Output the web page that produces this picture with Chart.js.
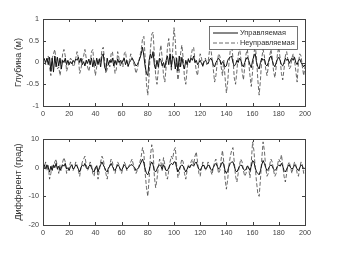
<!DOCTYPE html>
<html>
<head>
<meta charset="utf-8">
<script src="https://cdn.jsdelivr.net/npm/chart.js@4"></script>
<style>
  body { margin: 0; background: #fff; }
  .plot { position: absolute; left: 0; }
</style>
</head>
<body>
<canvas id="depth-chart" class="plot" style="top:0" width="337" height="126"></canvas>
<canvas id="trim-chart" class="plot" style="top:126px" width="337" height="127"></canvas>
<script>
// Time axis, seconds (sample grid)
const time = Array.from({ length: 201 }, (_, i) => i);
const xTicks = [0, 20, 40, 60, 80, 100, 120, 140, 160, 180, 200];

const seriesNames = ['Управляемая', 'Неуправляемая'];

// Depth (m)
const depthTicks = [-1, -0.5, 0, 0.5, 1];
const depthControlled = [
  0.05, 0.08, 0.0, 0.1, -0.05, 0.12, -0.2, 0.1, -0.22, 0.15,
  -0.1, 0.12, -0.08, 0.1, -0.15, 0.05, 0.0, 0.1, -0.05, 0.05,
  -0.05, 0.02, -0.03, 0.05, 0.0, 0.08, 0.05, 0.12, 0.0, 0.1,
  -0.05, 0.02, -0.08, 0.05, -0.02, 0.08, -0.05, 0.1, -0.1, 0.05,
  -0.08, 0.1, -0.05, 0.08, -0.1, 0.15, 0.2, -0.1, -0.18, 0.1,
  -0.05, 0.05, 0.0, 0.1, -0.08, 0.05, -0.05, 0.08, 0.0, 0.05,
  -0.02, 0.05, 0.1, -0.05, 0.05, -0.08, 0.0, 0.05, 0.1, 0.05,
  -0.02, -0.08, -0.05, 0.02, 0.1, 0.2, 0.35, 0.15, -0.1, -0.25,
  -0.3, 0.05, 0.2, 0.1, 0.25, -0.05, -0.15, 0.05, -0.1, 0.1,
  0.05, -0.08, 0.0, -0.12, 0.05, 0.15, -0.05, 0.2, -0.1, 0.15,
  0.1, -0.15, 0.1, -0.2, 0.15, -0.1, 0.12, -0.05, -0.15, 0.05,
  -0.05, 0.08, 0.0, 0.1, 0.05, 0.15, 0.0, 0.05, -0.05, 0.0,
  0.05, -0.02, -0.08, 0.02, 0.05, 0.0, -0.03, 0.05, 0.1, 0.05,
  -0.05, -0.1, 0.0, 0.05, 0.1, 0.05, -0.05, 0.02, -0.02, -0.1,
  -0.08, 0.05, 0.1, 0.12, 0.15, 0.0, -0.08, -0.05, 0.05, 0.0,
  0.1, 0.05, -0.05, -0.1, 0.0, 0.08, 0.12, 0.05, -0.05, -0.12,
  0.05, 0.15, 0.2, 0.0, -0.1, -0.15, 0.0, 0.1, 0.05, 0.08,
  -0.05, -0.08, 0.0, 0.1, 0.15, 0.05, -0.05, -0.1, 0.0, 0.08,
  0.12, 0.05, -0.05, -0.08, 0.0, 0.1, 0.05, 0.08, -0.02, 0.05,
  0.1, 0.05, 0.12, 0.0, -0.05, 0.05, 0.08, 0.0, -0.05, -0.1,
  -0.05
];
const depthUncontrolled = [
  0.05, 0.1, -0.05, 0.0, 0.15, -0.1, -0.3, 0.1, 0.2, 0.3,
  0.05, -0.15, -0.1, -0.3, -0.1, 0.2, 0.3, 0.15, -0.2, -0.1,
  0.0, 0.1, 0.05, -0.1, -0.05, 0.1, 0.25, 0.1, -0.25, -0.15,
  0.05, 0.15, 0.3, 0.1, -0.1, -0.2, -0.05, 0.25, 0.3, -0.05,
  -0.3, -0.1, 0.05, 0.1, 0.0, 0.3, 0.35, 0.05, -0.25, -0.15,
  0.0, -0.1, 0.2, 0.25, 0.0, -0.25, -0.15, 0.25, 0.1, -0.1,
  0.05, -0.1, 0.2, 0.25, 0.0, -0.1, 0.05, 0.2, 0.1, 0.0,
  -0.1, -0.25, -0.15, 0.0, 0.15, 0.3, 0.55, 0.6, 0.1, -0.5,
  -0.75, -0.3, 0.3, 0.65, 0.7, 0.2, -0.3, -0.5, -0.2, 0.2,
  0.4, 0.1, -0.3, -0.45, -0.1, 0.35, 0.55, 0.25, -0.2, 0.3,
  0.8, 0.5, -0.1, -0.4, -0.2, 0.2, 0.4, 0.1, -0.35, -0.5,
  -0.15, 0.1, 0.0, 0.15, 0.3, 0.35, 0.05, -0.2, -0.3, 0.0,
  0.2, 0.1, -0.1, 0.05, 0.1, -0.05, 0.0, 0.25, 0.35, 0.1,
  -0.15, -0.45, -0.3, 0.0, 0.2, 0.15, -0.1, -0.3, 0.05, -0.35,
  -0.7, -0.45, 0.0, 0.3, 0.4, 0.1, -0.35, -0.5, -0.2, 0.15,
  0.35, 0.1, -0.2, -0.4, -0.1, 0.2, 0.3, 0.0, -0.3, -0.55,
  -0.2, 0.2, 0.4, 0.1, -0.4, -0.75, -0.4, 0.1, 0.3, 0.15,
  -0.15, -0.3, -0.1, 0.15, 0.3, 0.1, -0.2, -0.35, -0.1, 0.2,
  0.35, 0.1, -0.25, -0.4, -0.15, 0.15, 0.25, 0.05, -0.15, -0.1,
  0.1, 0.2, 0.05, -0.2, -0.45, 0.0, 0.2, 0.15, -0.1, -0.3,
  -0.1
];

// Trim (deg)
const trimTicks = [-20, -10, 0, 10];
const trimControlled = [
  0.5, 1, -0.5, 1, 0, -1.5, 0.5, -1, 1, 0,
  1.5, -0.5, 0.5, -1, 0, 1, 0.5, 1.5, -0.5, 0,
  -1, 0.5, 1, -0.5, 0, 1, 0.5, -0.5, -1.5, 0,
  1, 0.5, 1.5, 0, -0.5, 0.5, 1, 0, -1, -1.5,
  0, 0.5, -1.5, 0, 1, 2, 1, 0, -1, -1.5,
  0, 0.5, 1.5, 0.5, -0.5, -1, 0, 1, 0.5, -0.5,
  -1, 0, 1, 0.5, -0.5, 0, 0.5, 1, 1, 0.5,
  0, -1, -0.5, 0, 1, 2, 3, 1.5, -0.5, -2,
  -2.5, -1, 1, 2, 1, -1, -1.5, -0.5, 0.5, 1,
  0.5, -0.5, 1, 0, -1, -1, 0, 1, 1.5, 1,
  2, 2, 0, -1.5, -0.5, 0.5, 1, 0.5, -0.5, -1.5,
  -0.5, 0.5, 0, 1, 1, 0.5, 1.5, 2, 0.5, -0.5,
  -1, 0, 1, 0.5, -0.5, 0, 1, 0.5, -0.5, -1,
  0, 1, 1.5, 0.5, -0.5, 0, 1, 2, 1, -1,
  -2, -1, 0.5, 1.5, 2, 2, 0.5, -1, -1.5, -0.5,
  0.5, 1, 0.5, -0.5, -1, -0.5, 0.5, 0, -1, 0.5,
  2.5, 2, 0, -1.5, -2, -2.5, -1, 1, 2.5, 1.5,
  0, -1, -0.5, 0.5, 1, 0.5, -0.5, -1, -0.5, 0.5,
  1, 0.5, 1.5, 0.5, -1, -1.5, -0.5, 0.5, 1, 0,
  -0.5, 0, 1, 0.5, -0.5, -1, 0, 1, 0.5, -0.5,
  0
];
const trimUncontrolled = [
  1, 0, 2, -1, 1, -4, -2, 1, 0, 2,
  3, 0, -2, 1, -1, 2, 3.5, 2, -2, -1,
  0, 2, 1, -1, 0, 2, 1, -1, -3, 0,
  2, 3, 4, 1, -1, 0, 2, 1, -2, -3,
  0, 1, -4, -1, 2, 4, 3, 0, -2, -4,
  -1, 1, 3, 2, -1, -2, 0, 2, 1, -1,
  -2, 0, 2, 1, -1, 0, 1, 2, 3, 1,
  -1, -2, -1, 0, 2, 4, 7, 5, -2, -7,
  -10, -4, 4, 8, 6, -3, -7, -4, 0, 3,
  2, -1, 3.5, 1, -3, -4, -1, 2, 4, 3,
  6, 7, 1, -3.5, -2, 1, 3, 2, -2, -4,
  -1, 1, 0, 2, 3, 1, 4, 5.5, 2, -2,
  -3, 0, 2, 1, -1, 0, 2, 1, -1, -2.5,
  0, 2, 3, 1, -2, -1, 3, 6, 2, -4,
  -7.5, -4, 1, 4, 6, 7, 2, -3, -5, -2,
  1, 3, 2, -1, -3, -2, 1, 0, -3.5, 2,
  9, 6, 0, -5, -9, -10, -4, 3, 9, 6,
  0, -3, -2, 1, 3, 2, -1, -3, -2, 1,
  3, 2, 4.5, 1, -3, -5, -2, 1, 2, 0,
  -2, 0, 2, 1, -2, -3, 0, 2, 1, -2,
  -1
];

Chart.defaults.font.family = '"Liberation Sans", Arial, sans-serif';
Chart.defaults.color = '#404040';

function toPoints(values) {
  return values.map((v, i) => ({ x: time[i], y: v }));
}

// Box around the axes with inward ticks on all four sides
const boxAxes = {
  id: 'boxAxes',
  afterDraw(chart) {
    const { ctx, chartArea: a, scales } = chart;
    const len = 3;
    ctx.save();
    ctx.strokeStyle = '#404040';
    ctx.lineWidth = 1;
    ctx.strokeRect(Math.round(a.left) + 0.5, Math.round(a.top) + 0.5,
      Math.round(a.right - a.left), Math.round(a.bottom - a.top));
    ctx.beginPath();
    scales.x.ticks.forEach(t => {
      const px = Math.round(scales.x.getPixelForValue(t.value)) + 0.5;
      ctx.moveTo(px, a.bottom); ctx.lineTo(px, a.bottom - len);
      ctx.moveTo(px, a.top); ctx.lineTo(px, a.top + len);
    });
    scales.y.ticks.forEach(t => {
      const py = Math.round(scales.y.getPixelForValue(t.value)) + 0.5;
      ctx.moveTo(a.left, py); ctx.lineTo(a.left + len, py);
      ctx.moveTo(a.right, py); ctx.lineTo(a.right - len, py);
    });
    ctx.stroke();
    ctx.restore();
  }
};

// Legend drawn inside the top-right corner of the axes
const insideLegend = {
  id: 'insideLegend',
  afterDatasetsDraw(chart, args, opts) {
    if (!opts.display) return;
    const { ctx, chartArea: a } = chart;
    const w = 88, h = 23;
    const x0 = a.right - 8 - w, y0 = a.top + 7;
    ctx.save();
    ctx.fillStyle = '#fff';
    ctx.fillRect(x0, y0, w, h);
    ctx.strokeStyle = '#505050';
    ctx.lineWidth = 0.8;
    ctx.strokeRect(x0 + 0.5, y0 + 0.5, w, h);
    ctx.font = '7.4px "Liberation Sans", Arial, sans-serif';
    ctx.textBaseline = 'middle';
    chart.data.datasets.forEach((ds, i) => {
      const y = y0 + 7 + i * 10;
      ctx.beginPath();
      ctx.strokeStyle = ds.borderColor;
      ctx.lineWidth = ds.borderWidth;
      ctx.setLineDash(ds.borderDash || []);
      ctx.moveTo(x0 + 4, y);
      ctx.lineTo(x0 + 29, y);
      ctx.stroke();
      ctx.setLineDash([]);
      ctx.fillStyle = '#303030';
      ctx.fillText(ds.label, x0 + 31, y);
    });
    ctx.restore();
  }
};

function makeChart(id, controlled, uncontrolled, yTicks, title, padding, showLegend) {
  return new Chart(document.getElementById(id), {
    type: 'line',
    data: {
      datasets: [
        {
          label: seriesNames[0],
          data: toPoints(controlled),
          borderColor: '#111',
          borderWidth: 1,
          pointRadius: 0,
          tension: 0
        },
        {
          label: seriesNames[1],
          data: toPoints(uncontrolled),
          borderColor: '#444',
          borderWidth: 0.8,
          borderDash: [4, 2],
          pointRadius: 0,
          tension: 0
        }
      ]
    },
    options: {
      responsive: false,
      animation: false,
      layout: { padding },
      plugins: {
        legend: { display: false },
        tooltip: { enabled: false },
        insideLegend: { display: showLegend }
      },
      scales: {
        x: {
          type: 'linear',
          min: 0,
          max: 200,
          afterBuildTicks: s => { s.ticks = xTicks.map(v => ({ value: v })); },
          afterFit: s => { s.height = 20; },
          grid: { display: false, drawTicks: false },
          border: { display: false },
          ticks: { font: { size: 7.2 }, padding: 4, maxRotation: 0, callback: v => String(v) }
        },
        y: {
          min: yTicks[0],
          max: yTicks[yTicks.length - 1],
          afterBuildTicks: s => { s.ticks = yTicks.map(v => ({ value: v })); },
          afterFit: s => { s.width = 43; },
          grid: { display: false, drawTicks: false },
          border: { display: false },
          ticks: { font: { size: 7.2 }, padding: 4, callback: v => String(v) },
          title: {
            display: true,
            text: title,
            font: { size: 9 },
            color: '#303030',
            padding: { top: 13, bottom: 0 }
          }
        }
      }
    },
    plugins: [boxAxes, insideLegend]
  });
}

makeChart('depth-chart', depthControlled, depthUncontrolled, depthTicks,
  'Глубина (м)', { top: 19, right: 32, bottom: 0, left: 0 }, true);
makeChart('trim-chart', trimControlled, trimUncontrolled, trimTicks,
  'Дифферент (град)', { top: 13, right: 32, bottom: 8, left: 0 }, false);
</script>
</body>
</html>
